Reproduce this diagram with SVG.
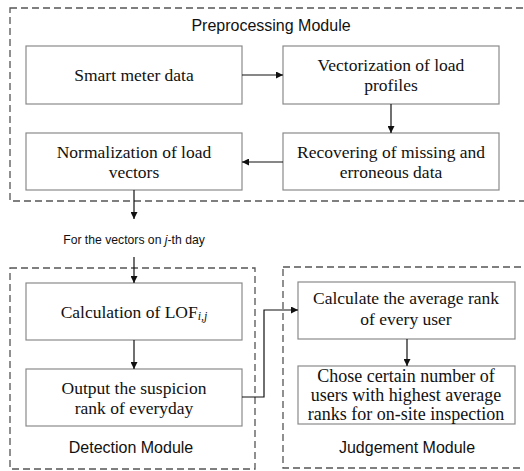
<svg xmlns="http://www.w3.org/2000/svg" width="524" height="471" viewBox="0 0 524 471">
<style>
.mod{fill:none;stroke:#555;stroke-width:1.3;stroke-dasharray:7,4}
.box{fill:#fff;stroke:#8a8a8a;stroke-width:1.2}
.t{font-family:"Liberation Serif",serif;font-size:17.5px;fill:#111;text-anchor:middle}
.h{font-family:"Liberation Sans",Arial,sans-serif;font-size:16px;fill:#111;text-anchor:middle}
.s{font-family:"Liberation Sans",Arial,sans-serif;font-size:12.2px;fill:#111;text-anchor:middle}
.c{fill:none;stroke:#111;stroke-width:1.2}
</style>
<defs>
<marker id="ar" viewBox="0 0 10 10" refX="10" refY="5" markerWidth="7" markerHeight="7" orient="auto" markerUnits="userSpaceOnUse">
<path d="M0,0 L10,5 L0,10 z" fill="#111"/>
</marker>
</defs>
<g id="preprocessing-module">
<rect class="mod" x="10" y="8" width="530" height="193"/>
<text class="h" x="271" y="31">Preprocessing Module</text>
</g>
<g id="detection-module">
<rect class="mod" x="10" y="268" width="245" height="201"/>
<text class="h" x="131" y="453">Detection Module</text>
</g>
<g id="judgement-module">
<rect class="mod" x="283" y="267" width="260" height="201"/>
<text class="h" x="407" y="453">Judgement Module</text>
</g>
<g id="smart-meter">
<rect class="box" x="26" y="46" width="216" height="58"/>
<text class="t" x="134" y="81">Smart meter data</text>
</g>
<g id="vectorization">
<rect class="box" x="283" y="46" width="216" height="58"/>
<text class="t" x="391" y="71">Vectorization of load</text>
<text class="t" x="391" y="91">profiles</text>
</g>
<g id="normalization">
<rect class="box" x="26" y="133" width="216" height="57"/>
<text class="t" x="134" y="158">Normalization of load</text>
<text class="t" x="134" y="178">vectors</text>
</g>
<g id="recovering">
<rect class="box" x="283" y="133" width="216" height="57"/>
<text class="t" x="391" y="158">Recovering of missing and</text>
<text class="t" x="391" y="178">erroneous data</text>
</g>
<g id="vectors-label">
<text class="s" x="134" y="244">For the vectors on <tspan font-style="italic">j</tspan>-th day</text>
</g>
<g id="calculation">
<rect class="box" x="26" y="283" width="216" height="57"/>
<text class="t" x="134" y="318">Calculation of LOF<tspan font-size="12" font-style="italic" dy="2">i,j</tspan></text>
</g>
<g id="output">
<rect class="box" x="26" y="369" width="216" height="57"/>
<text class="t" x="134" y="394">Output the suspicion</text>
<text class="t" x="134" y="414">rank  of everyday</text>
</g>
<g id="average">
<rect class="box" x="298" y="282" width="217" height="57"/>
<text class="t" x="406" y="304">Calculate the average rank</text>
<text class="t" x="406" y="325">of every user</text>
</g>
<g id="chose">
<rect class="box" x="298" y="366" width="217" height="58"/>
<text class="t" x="406" y="382" style="font-size:18px">Chose certain number of</text>
<text class="t" x="406" y="401" style="font-size:18px">users with highest average</text>
<text class="t" x="406" y="420" style="font-size:18px">ranks for on-site inspection</text>
</g>
<g id="connectors">
<line class="c" x1="242" y1="75" x2="283" y2="75" marker-end="url(#ar)"/>
<line class="c" x1="391" y1="104" x2="391" y2="133" marker-end="url(#ar)"/>
<line class="c" x1="283" y1="162" x2="242" y2="162" marker-end="url(#ar)"/>
<line class="c" x1="134" y1="190" x2="134" y2="219" marker-end="url(#ar)"/>
<line class="c" x1="134" y1="257" x2="134" y2="283" marker-end="url(#ar)"/>
<line class="c" x1="134" y1="340" x2="134" y2="369" marker-end="url(#ar)"/>
<polyline class="c" points="242,397 264,397 264,310 298,310" marker-end="url(#ar)"/>
<line class="c" x1="407" y1="339" x2="407" y2="366" marker-end="url(#ar)"/>
</g>
</svg>
